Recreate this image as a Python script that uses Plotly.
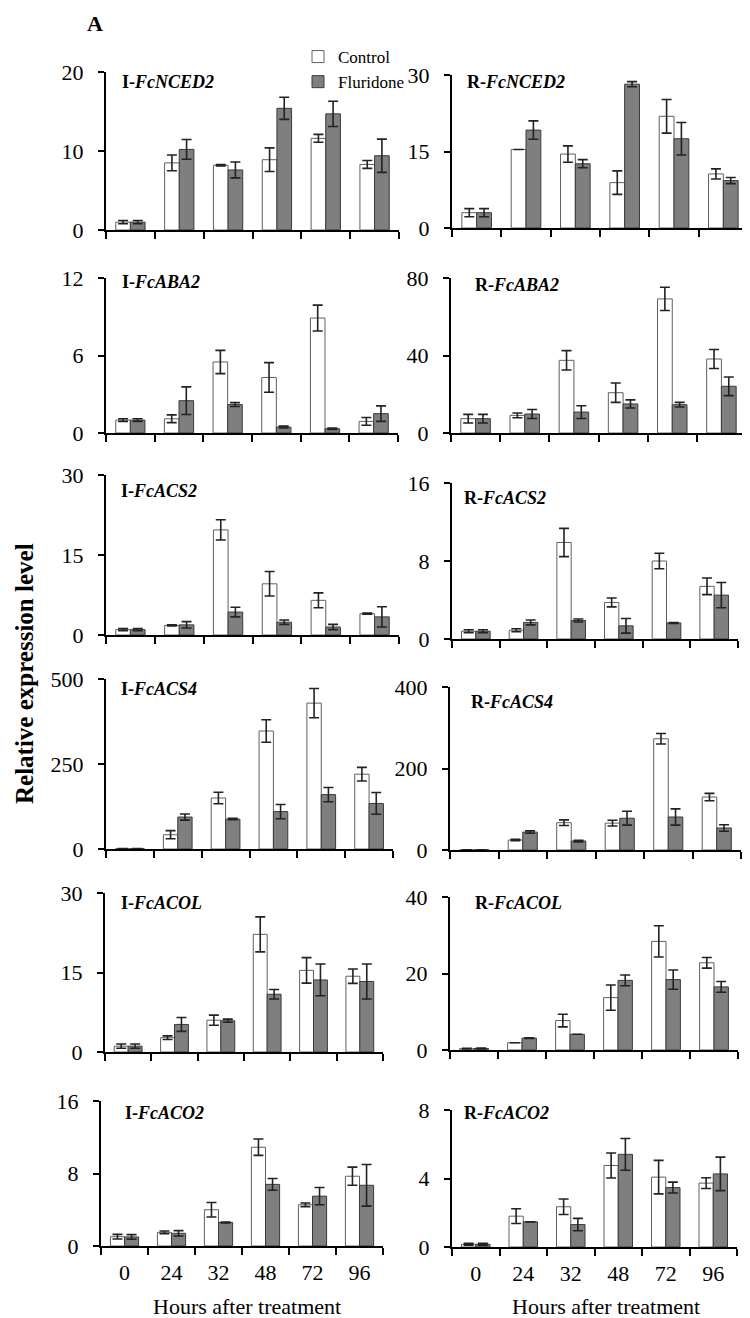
import plotly.graph_objects as go

# The page body has an 8px margin, so the figure is drawn 8px in from the
# window's top-left corner; all layout positions below are given in window
# pixels and converted through OFF.
WIN_W, WIN_H = 750, 1318
OFF = 8
W, H = WIN_W - OFF, WIN_H - OFF
FONT = "Liberation Serif"


def px(x):
    return (x - OFF) / W


def py(y):
    return 1 - (y - OFF) / H


hours = ["0", "24", "32", "48", "72", "96"]

# ---- data (mean, error) ----
I_NCED2_ctrl = [1.0, 8.5, 8.2, 8.9, 11.6, 8.3]
I_NCED2_ctrl_err = [0.2, 1.0, 0.1, 1.5, 0.5, 0.5]
I_NCED2_flu = [1.0, 10.2, 7.6, 15.4, 14.7, 9.4]
I_NCED2_flu_err = [0.2, 1.25, 1.0, 1.4, 1.6, 2.1]

R_NCED2_ctrl = [3.0, 15.4, 14.5, 8.9, 21.9, 10.6]
R_NCED2_ctrl_err = [0.8, 0.0, 1.6, 2.3, 3.3, 1.0]
R_NCED2_flu = [3.0, 19.2, 12.6, 28.2, 17.5, 9.3]
R_NCED2_flu_err = [0.8, 1.8, 0.8, 0.5, 3.2, 0.6]

I_ABA2_ctrl = [1.0, 1.1, 5.5, 4.3, 8.9, 0.9]
I_ABA2_ctrl_err = [0.1, 0.3, 0.9, 1.15, 1.0, 0.3]
I_ABA2_flu = [1.0, 2.5, 2.2, 0.46, 0.33, 1.5]
I_ABA2_flu_err = [0.1, 1.07, 0.15, 0.07, 0.05, 0.6]

R_ABA2_ctrl = [7.4, 9.1, 37.5, 20.8, 69.2, 38.2]
R_ABA2_ctrl_err = [2.2, 1.2, 5.0, 5.0, 6.0, 4.9]
R_ABA2_flu = [7.4, 9.8, 10.8, 15.0, 14.6, 24.1]
R_ABA2_flu_err = [2.2, 2.3, 3.3, 2.1, 1.2, 4.8]

I_ACS2_ctrl = [1.0, 1.8, 19.7, 9.6, 6.5, 4.0]
I_ACS2_ctrl_err = [0.2, 0.1, 1.9, 2.3, 1.4, 0.1]
I_ACS2_flu = [1.0, 1.9, 4.3, 2.4, 1.5, 3.4]
I_ACS2_flu_err = [0.2, 0.6, 0.9, 0.4, 0.5, 1.9]

R_ACS2_ctrl = [0.8, 0.9, 9.9, 3.75, 8.0, 5.4]
R_ACS2_ctrl_err = [0.15, 0.15, 1.45, 0.45, 0.8, 0.85]
R_ACS2_flu = [0.8, 1.7, 1.9, 1.35, 1.65, 4.5]
R_ACS2_flu_err = [0.15, 0.25, 0.15, 0.75, 0.05, 1.3]

I_ACS4_ctrl = [1.0, 42, 150, 347, 429, 220]
I_ACS4_ctrl_err = [0.3, 12, 17, 33, 43, 20]
I_ACS4_flu = [1.0, 94, 88, 110, 160, 134]
I_ACS4_flu_err = [0.3, 9, 2, 21, 21, 32]

R_ACS4_ctrl = [0.5, 24.5, 67, 66, 273, 130]
R_ACS4_ctrl_err = [0.2, 1.5, 7, 7, 13, 9]
R_ACS4_flu = [0.5, 44, 22, 78, 81, 54]
R_ACS4_flu_err = [0.2, 3, 2, 17, 20, 8]

I_ACOL_ctrl = [1.1, 2.7, 6.0, 22.2, 15.4, 14.3]
I_ACOL_ctrl_err = [0.4, 0.35, 0.95, 3.3, 2.4, 1.35]
I_ACOL_flu = [1.1, 5.2, 5.9, 10.9, 13.6, 13.3]
I_ACOL_flu_err = [0.4, 1.3, 0.3, 0.9, 3.0, 3.3]

R_ACOL_ctrl = [0.35, 1.9, 7.7, 13.7, 28.4, 22.8]
R_ACOL_ctrl_err = [0.1, 0.0, 1.65, 3.3, 4.1, 1.4]
R_ACOL_flu = [0.4, 3.1, 4.1, 18.2, 18.4, 16.5]
R_ACOL_flu_err = [0.1, 0.1, 0.0, 1.4, 2.5, 1.4]

I_ACO2_ctrl = [1.03, 1.5, 4.0, 10.9, 4.55, 7.7]
I_ACO2_ctrl_err = [0.25, 0.15, 0.8, 0.9, 0.2, 1.0]
I_ACO2_flu = [1.0, 1.4, 2.6, 6.8, 5.5, 6.7]
I_ACO2_flu_err = [0.25, 0.3, 0.05, 0.65, 0.95, 2.3]

R_ACO2_ctrl = [0.16, 1.8, 2.35, 4.76, 4.08, 3.73]
R_ACO2_ctrl_err = [0.05, 0.43, 0.45, 0.73, 0.98, 0.31]
R_ACO2_flu = [0.16, 1.47, 1.31, 5.41, 3.47, 4.27]
R_ACO2_flu_err = [0.05, 0.0, 0.36, 0.93, 0.32, 0.98]

# y-axis ticks per panel
I_NCED2_ticks = [0, 10, 20]
R_NCED2_ticks = [0, 15, 30]
I_ABA2_ticks = [0, 6, 12]
R_ABA2_ticks = [0, 40, 80]
I_ACS2_ticks = [0, 15, 30]
R_ACS2_ticks = [0, 8, 16]
I_ACS4_ticks = [0, 250, 500]
R_ACS4_ticks = [0, 200, 400]
I_ACOL_ticks = [0, 15, 30]
R_ACOL_ticks = [0, 20, 40]
I_ACO2_ticks = [0, 8, 16]
R_ACO2_ticks = [0, 4, 8]

series_names = ["Control", "Fluridone"]

panels = [
    ("I-", "FcNCED2", I_NCED2_ticks, I_NCED2_ctrl, I_NCED2_ctrl_err, I_NCED2_flu, I_NCED2_flu_err),
    ("R-", "FcNCED2", R_NCED2_ticks, R_NCED2_ctrl, R_NCED2_ctrl_err, R_NCED2_flu, R_NCED2_flu_err),
    ("I-", "FcABA2", I_ABA2_ticks, I_ABA2_ctrl, I_ABA2_ctrl_err, I_ABA2_flu, I_ABA2_flu_err),
    ("R-", "FcABA2", R_ABA2_ticks, R_ABA2_ctrl, R_ABA2_ctrl_err, R_ABA2_flu, R_ABA2_flu_err),
    ("I-", "FcACS2", I_ACS2_ticks, I_ACS2_ctrl, I_ACS2_ctrl_err, I_ACS2_flu, I_ACS2_flu_err),
    ("R-", "FcACS2", R_ACS2_ticks, R_ACS2_ctrl, R_ACS2_ctrl_err, R_ACS2_flu, R_ACS2_flu_err),
    ("I-", "FcACS4", I_ACS4_ticks, I_ACS4_ctrl, I_ACS4_ctrl_err, I_ACS4_flu, I_ACS4_flu_err),
    ("R-", "FcACS4", R_ACS4_ticks, R_ACS4_ctrl, R_ACS4_ctrl_err, R_ACS4_flu, R_ACS4_flu_err),
    ("I-", "FcACOL", I_ACOL_ticks, I_ACOL_ctrl, I_ACOL_ctrl_err, I_ACOL_flu, I_ACOL_flu_err),
    ("R-", "FcACOL", R_ACOL_ticks, R_ACOL_ctrl, R_ACOL_ctrl_err, R_ACOL_flu, R_ACOL_flu_err),
    ("I-", "FcACO2", I_ACO2_ticks, I_ACO2_ctrl, I_ACO2_ctrl_err, I_ACO2_flu, I_ACO2_flu_err),
    ("R-", "FcACO2", R_ACO2_ticks, R_ACO2_ctrl, R_ACO2_ctrl_err, R_ACO2_flu, R_ACO2_flu_err),
]

# ---- layout geometry (window pixels): x0, x1, y_top, y_bottom ; title position ----
boxes = [
    (106, 399, 72, 230), (452, 748, 75, 228),
    (106, 398, 278, 433), (451, 746, 278, 433),
    (106, 399, 475, 635), (452, 738, 483, 639),
    (106, 393, 679, 849), (450, 741, 687, 850),
    (105, 383, 893, 1052), (450, 738, 897, 1050),
    (101, 383, 1101, 1246), (452, 737, 1110, 1247),
]
title_pos = [
    (120, 82), (465, 82),
    (120, 282), (473, 285),
    (119, 491), (462, 498),
    (119, 689), (469, 702),
    (119, 903), (473, 903),
    (123, 1113), (462, 1113),
]

fills = ["#ffffff", "#7f7f7f"]
edges = ["#606060", "#3a3a3a"]

fig = go.Figure()
annotations = []

for i, (pre, gene, ticks, c, ce, f, fe) in enumerate(panels):
    n = i + 1
    xa = "x" if n == 1 else f"x{n}"
    ya = "y" if n == 1 else f"y{n}"
    for k, (vals, errs) in enumerate([(c, ce), (f, fe)]):
        fig.add_trace(go.Bar(
            x=hours, y=vals, name=series_names[k],
            xaxis=xa, yaxis=ya,
            marker=dict(color=fills[k], line=dict(color=edges[k], width=1)),
            error_y=dict(type="data", array=errs, visible=True,
                         color="#222222", thickness=1.6, width=5),
            offsetgroup=str(k), legendgroup=series_names[k],
            showlegend=(n == 1),
        ))
    x0, x1, yt, yb = boxes[i]
    bottom = i >= 10
    xkey = "xaxis" if n == 1 else f"xaxis{n}"
    ykey = "yaxis" if n == 1 else f"yaxis{n}"
    fig.layout[xkey] = dict(
        domain=[px(x0), min(px(x1), 1.0)], anchor=ya, type="category",
        categoryorder="array", categoryarray=hours, range=[-0.5, 5.5],
        showline=True, linecolor="black", linewidth=2,
        ticks="outside", tickson="boundaries", ticklen=7, tickwidth=2,
        tickcolor="black", showgrid=False, zeroline=False,
        showticklabels=bottom, ticklabelstandoff=6, automargin=False,
        tickfont=dict(family=FONT, size=22, color="black"),
    )
    fig.layout[ykey] = dict(
        domain=[py(yb), py(yt)], anchor=xa,
        range=[0, ticks[-1]], tickvals=ticks,
        showline=True, linecolor="black", linewidth=2,
        ticks="outside", ticklen=6, tickwidth=2, tickcolor="black",
        showgrid=False, zeroline=False, ticklabelstandoff=10,
        automargin=False,
        tickfont=dict(family=FONT, size=22, color="black"),
    )
    tx, ty = title_pos[i]
    annotations.append(dict(
        x=px(tx), y=py(ty), xref="paper", yref="paper",
        xanchor="left", yanchor="middle", showarrow=False,
        text=f"<b>{pre}<i>{gene}</i></b>",
        font=dict(family=FONT, size=18, color="black"),
    ))

# x titles
for cx in [247, 606]:
    annotations.append(dict(
        x=px(cx), y=py(1306), xref="paper", yref="paper",
        xanchor="center", yanchor="middle", showarrow=False,
        text="Hours after treatment",
        font=dict(family=FONT, size=22, color="black"),
    ))

# y title
annotations.append(dict(
    x=px(24), y=py(674), xref="paper", yref="paper",
    xanchor="center", yanchor="middle", showarrow=False, textangle=-90,
    text="<b>Relative expression level</b>",
    font=dict(family=FONT, size=25, color="black"),
))

# panel label
annotations.append(dict(
    x=px(95), y=py(24), xref="paper", yref="paper",
    xanchor="center", yanchor="middle", showarrow=False,
    text="<b>A</b>", font=dict(family=FONT, size=22, color="black"),
))

fig.update_layout(
    template="none",
    width=W, height=H,
    margin=dict(l=0, r=0, t=0, b=0, autoexpand=False),
    paper_bgcolor="white", plot_bgcolor="white",
    barmode="group", bargap=0.4, bargroupgap=0.0,
    annotations=annotations,
    showlegend=True,
    legend=dict(
        x=px(298), y=py(39), xanchor="left", yanchor="top",
        bgcolor="rgba(0,0,0,0)", borderwidth=0,
        font=dict(family=FONT, size=17, color="black"),
        itemwidth=30, tracegroupgap=0,
    ),
    font=dict(family=FONT, color="black"),
)

fig.write_html("out.html")
